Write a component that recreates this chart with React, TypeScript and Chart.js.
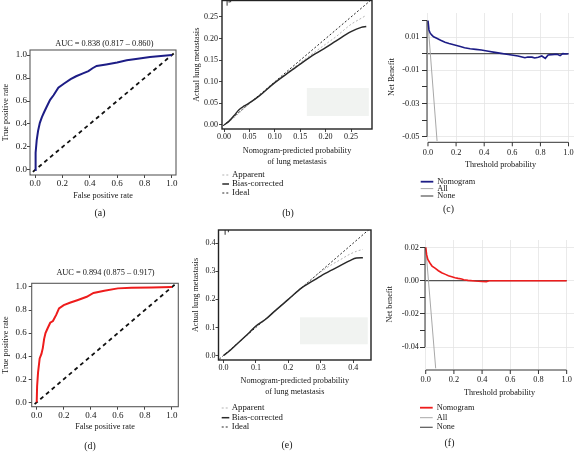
import React, { useEffect, useRef } from "react";
import { Chart, registerables } from "chart.js";

Chart.register(...registerables);

const SERIF = "'Liberation Serif', 'DejaVu Serif', 'Times New Roman', serif";

// ---------- (a) ROC, training ----------
const rocAFpr = [0, 0.004, 0.012, 0.022, 0.035, 0.05, 0.065, 0.085, 0.11, 0.135, 0.17, 0.21, 0.26, 0.3, 0.35, 0.39, 0.42, 0.45, 0.52, 0.6, 0.67, 0.75, 0.84, 0.92, 1.0];
const rocATpr = [0, 0.15, 0.26, 0.34, 0.41, 0.46, 0.5, 0.55, 0.61, 0.65, 0.715, 0.75, 0.79, 0.815, 0.84, 0.86, 0.885, 0.905, 0.918, 0.935, 0.955, 0.968, 0.982, 0.992, 1.0];
const aucA = "AUC = 0.838 (0.817 – 0.860)";

// ---------- (d) ROC, validation ----------
const rocDFpr = [0, 0.003, 0.01, 0.022, 0.035, 0.045, 0.055, 0.065, 0.08, 0.1, 0.12, 0.145, 0.165, 0.2, 0.25, 0.3, 0.37, 0.42, 0.5, 0.6, 0.7, 0.85, 1.0];
const rocDTpr = [0, 0.14, 0.26, 0.38, 0.42, 0.47, 0.55, 0.6, 0.64, 0.69, 0.705, 0.76, 0.815, 0.843, 0.865, 0.885, 0.915, 0.948, 0.968, 0.988, 0.993, 0.996, 1.0];
const aucD = "AUC = 0.894 (0.875 – 0.917)";

const diagX = [-0.1, 1.1];
const rocTicks = [0, 0.2, 0.4, 0.6, 0.8, 1.0];
const rocTickLabels = ["0.0", "0.2", "0.4", "0.6", "0.8", "1.0"];

// ---------- (b) calibration, training ----------
const calBX = [0, 0.01, 0.02, 0.03, 0.04, 0.05, 0.07, 0.1, 0.13, 0.15, 0.18, 0.2, 0.22, 0.25, 0.27, 0.28];
const calBApparent = [0, 0.008, 0.017, 0.028, 0.039, 0.049, 0.068, 0.098, 0.126, 0.144, 0.17, 0.187, 0.204, 0.233, 0.247, 0.254];
const calBBias = [0, 0.009, 0.022, 0.036, 0.044, 0.051, 0.068, 0.098, 0.124, 0.141, 0.165, 0.179, 0.194, 0.216, 0.226, 0.228];
const calBTicks = [0, 0.05, 0.1, 0.15, 0.2, 0.25];
const calBTickLabels = ["0.00", "0.05", "0.10", "0.15", "0.20", "0.25"];
const rugBX = [0.006, 0.01, 0.013];
const rugBLen = [0.012, 0.005, 0.004];

// ---------- (e) calibration, validation ----------
const calEX = [0, 0.02, 0.05, 0.08, 0.1, 0.13, 0.16, 0.2, 0.24, 0.27, 0.3, 0.33, 0.36, 0.39, 0.41, 0.43];
const calEApparent = [0, 0.018, 0.05, 0.082, 0.105, 0.129, 0.16, 0.2, 0.242, 0.27, 0.298, 0.321, 0.341, 0.361, 0.371, 0.378];
const calEBias = [0, 0.018, 0.05, 0.082, 0.105, 0.129, 0.16, 0.2, 0.24, 0.262, 0.283, 0.302, 0.32, 0.338, 0.347, 0.348];
const calETicks = [0, 0.1, 0.2, 0.3, 0.4];
const calETickLabels = ["0.0", "0.1", "0.2", "0.3", "0.4"];
const rugEX = [0.005, 0.015];
const rugELen = [0.017, 0.008];

const idealX = [-0.05, 0.6];
const calLegendLabels = ["Apparent", "Bias-corrected", "Ideal"];
const calXTitle = ["Nomogram-predicted probability", "of lung metastasis"];

// ---------- (c) DCA, training ----------
const dcaCThr = [0, 0.007, 0.015, 0.026, 0.04, 0.062, 0.09, 0.121, 0.15, 0.19, 0.23, 0.26, 0.3, 0.34, 0.38, 0.43, 0.476, 0.52, 0.56, 0.595, 0.64, 0.69, 0.71, 0.74, 0.76, 0.785, 0.81, 0.835, 0.855, 0.88, 0.9, 0.92, 0.94, 0.96, 0.985, 1.0];
const dcaCNet = [0.0199, 0.0143, 0.0125, 0.0113, 0.0102, 0.0093, 0.0081, 0.0069, 0.0061, 0.0052, 0.0043, 0.0036, 0.003, 0.0026, 0.0022, 0.0015, 0.0008, 0.0002, -0.0003, -0.0008, -0.0014, -0.0024, -0.002, -0.0021, -0.0026, -0.0022, -0.0014, -0.0028, -0.0008, -0.0006, -0.0004, -0.0004, -0.0012, 0.0, -0.0002, 0.0];
const dcaCAllThr = [0, 0.065];
const dcaCAll = [0.0185, -0.053];
const dcaCYTicks = [-0.05, -0.04, -0.03, -0.02, -0.01, 0, 0.01, 0.02];
const dcaCYLabels = ["-0.05", "", "-0.03", "", "-0.01", "", "0.01", ""];

// ---------- (f) DCA, validation ----------
const dcaFThr = [0, 0.007, 0.015, 0.031, 0.045, 0.066, 0.09, 0.113, 0.14, 0.161, 0.185, 0.208, 0.23, 0.255, 0.27, 0.3, 0.35, 0.4, 0.43, 0.44, 0.45, 1.0];
const dcaFNet = [0.0201, 0.0155, 0.0128, 0.0105, 0.0088, 0.0075, 0.006, 0.0048, 0.0038, 0.003, 0.0024, 0.0018, 0.0014, 0.001, 0.0006, 0.0002, -0.0002, -0.0005, -0.0006, -0.0004, 0, 0];
const dcaFAllThr = [0, 0.071];
const dcaFAll = [0.0201, -0.053];
const dcaFYTicks = [-0.04, -0.03, -0.02, -0.01, 0, 0.01, 0.02];
const dcaFYLabels = ["-0.04", "", "-0.02", "", "0.00", "", "0.02"];

const dcaNoneThr = [0, 1];
const dcaNone = [0, 0];
const dcaXTicks = [0, 0.2, 0.4, 0.6, 0.8, 1.0];
const dcaXLabels = ["0.0", "0.2", "0.4", "0.6", "0.8", "1.0"];
const dcaLegendLabels = ["Nomogram", "All", "None"];

// ---------- styles ----------
const NAVY = "#1d1d86";
const RED = "#ee1c1c";
const TEXT = "#151515";
const GRID = "#e4e4e4";
const styApparent = { color: "#b4b4b4", width: 1, dash: [2, 2] };
const styBias = { color: "#2a2a2a", width: 1.5, dash: [] as number[] };
const styIdeal = { color: "#2a2a2a", width: 1, dash: [2, 2] };
const styAll = { color: "#a8a8a8", width: 1, dash: [] as number[] };
const styNone = { color: "#555", width: 1.2, dash: [] as number[] };

type Txt = { text: string; x: number; y: number; size: number };
type LegItem = { label: string; color: string; width: number; dash: number[] };
type Decor = {
  box?: { color: string; width: number };
  spines?: { yFrom: number; yTo: number; xFrom: number; xTo: number; xTicks: number[]; offset: number; tick: number; color: string };
  rects?: { x0: number; x1: number; y0: number; y1: number; color: string }[];
  rug?: { xs: number[]; lens: number[]; color: string };
  texts?: Txt[];
  legend?: { items: LegItem[]; ys: number[]; x0: number; x1: number; tx: number; size: number };
};

function makeDecor(d: Decor) {
  return {
    id: "decor",
    beforeDatasetsDraw(chart: any) {
      const { ctx } = chart;
      const xs = chart.scales.x;
      const ys = chart.scales.y;
      (d.rects || []).forEach((r) => {
        const x1 = xs.getPixelForValue(r.x0);
        const x2 = xs.getPixelForValue(r.x1);
        const y1 = ys.getPixelForValue(r.y1);
        const y2 = ys.getPixelForValue(r.y0);
        ctx.save();
        ctx.fillStyle = r.color;
        ctx.fillRect(x1, y1, x2 - x1, y2 - y1);
        ctx.restore();
      });
    },
    afterDraw(chart: any) {
      const { ctx, chartArea: ca } = chart;
      const xs = chart.scales.x;
      const ys = chart.scales.y;
      ctx.save();
      if (d.rug) {
        ctx.strokeStyle = d.rug.color;
        ctx.lineWidth = 1;
        d.rug.xs.forEach((xv, i) => {
          const px = xs.getPixelForValue(xv);
          const y2 = ys.getPixelForValue(ys.max - d.rug!.lens[i]);
          ctx.beginPath();
          ctx.moveTo(px, ca.top);
          ctx.lineTo(px, y2);
          ctx.stroke();
        });
      }
      if (d.box) {
        ctx.strokeStyle = d.box.color;
        ctx.lineWidth = d.box.width;
        ctx.strokeRect(ca.left, ca.top, ca.right - ca.left, ca.bottom - ca.top);
      }
      if (d.spines) {
        const s = d.spines;
        ctx.strokeStyle = s.color;
        ctx.lineWidth = 1;
        ctx.beginPath();
        ctx.moveTo(ca.left, ys.getPixelForValue(s.yFrom));
        ctx.lineTo(ca.left, ys.getPixelForValue(s.yTo));
        const yb = ca.bottom + s.offset;
        ctx.moveTo(xs.getPixelForValue(s.xFrom), yb);
        ctx.lineTo(xs.getPixelForValue(s.xTo), yb);
        s.xTicks.forEach((t) => {
          const px = xs.getPixelForValue(t);
          ctx.moveTo(px, yb);
          ctx.lineTo(px, yb + s.tick);
        });
        ctx.stroke();
      }
      ctx.fillStyle = TEXT;
      ctx.textBaseline = "middle";
      (d.texts || []).forEach((t) => {
        ctx.font = `${t.size}px ${SERIF}`;
        ctx.textAlign = "center";
        ctx.fillText(t.text, t.x, t.y);
      });
      if (d.legend) {
        const L = d.legend;
        L.items.forEach((it, i) => {
          const y = L.ys[i];
          ctx.strokeStyle = it.color;
          ctx.lineWidth = it.width;
          ctx.setLineDash(it.dash);
          ctx.beginPath();
          ctx.moveTo(L.x0, y);
          ctx.lineTo(L.x1, y);
          ctx.stroke();
          ctx.setLineDash([]);
          ctx.font = `${L.size}px ${SERIF}`;
          ctx.textAlign = "left";
          ctx.fillStyle = TEXT;
          ctx.fillText(it.label, L.tx, y);
        });
      }
      ctx.restore();
    },
  };
}

function series(xs: number[], ys: number[], color: string, width: number, dash: number[] = [], extra: any = {}) {
  return {
    data: xs.map((x, i) => ({ x, y: ys[i] })),
    borderColor: color,
    borderWidth: width,
    borderDash: dash,
    pointRadius: 0,
    fill: false,
    tension: 0,
    ...extra,
  };
}

type Spec = {
  w: number; h: number; L: number; T: number; R: number; B: number;
  xMin: number; xMax: number; yMin: number; yMax: number;
  xTicks: number[]; xLabels: string[]; yTicks: number[]; yLabels: string[];
  tickSize: number; xLabelPad: number; yLabelPad: number;
  rStyle: boolean;
  xTitle: string | string[]; xTitlePad: number; yTitle: string; yTitlePad: number;
  datasets: any[];
  decor: Decor;
};

function buildConfig(p: Spec): any {
  const tickFont = { family: SERIF, size: p.tickSize };
  const titleFont = { family: SERIF, size: 8.2, lineHeight: 1.37 };
  return {
    type: "line",
    data: { datasets: p.datasets },
    options: {
      animation: false,
      responsive: false,
      maintainAspectRatio: false,
      devicePixelRatio: 1,
      events: [],
      layout: { padding: { left: 0, top: p.T, right: p.w - p.R, bottom: 0 } },
      plugins: { legend: { display: false }, tooltip: { enabled: false }, title: { display: false } },
      scales: {
        x: {
          type: "linear",
          min: p.xMin,
          max: p.xMax,
          afterBuildTicks: (s: any) => {
            s.ticks = p.xTicks.map((v) => ({ value: v }));
          },
          afterFit: (s: any) => {
            s.height = p.h - p.B;
            s.paddingLeft = 0; s.paddingRight = 0; s.paddingTop = 0; s.paddingBottom = 0;
          },
          ticks: {
            autoSkip: false, maxRotation: 0, minRotation: 0, color: TEXT, font: tickFont, padding: p.xLabelPad,
            callback: (_v: any, i: number) => p.xLabels[i],
          },
          grid: p.rStyle
            ? { display: true, drawOnChartArea: true, drawTicks: false, color: GRID, lineWidth: 0.8 }
            : { display: true, drawOnChartArea: false, drawTicks: true, tickLength: 3, tickColor: "#444", tickWidth: 1 },
          border: { display: false },
          title: { display: true, text: p.xTitle, color: TEXT, font: titleFont, padding: { top: 0, bottom: p.xTitlePad } },
        },
        y: {
          type: "linear",
          min: p.yMin,
          max: p.yMax,
          afterBuildTicks: (s: any) => {
            s.ticks = p.yTicks.map((v) => ({ value: v }));
          },
          afterFit: (s: any) => {
            s.width = p.L;
            s.paddingLeft = 0; s.paddingRight = 0; s.paddingTop = 0; s.paddingBottom = 0;
          },
          ticks: {
            autoSkip: false, color: TEXT, font: tickFont, padding: p.yLabelPad,
            callback: (_v: any, i: number) => p.yLabels[i],
          },
          grid: p.rStyle
            ? {
                display: true, drawOnChartArea: true, drawTicks: true, tickLength: 5, tickColor: "#333", tickWidth: 1,
                color: (c: any) => (p.yLabels[c.index] ? GRID : "rgba(0,0,0,0)"), lineWidth: 0.8,
              }
            : { display: true, drawOnChartArea: false, drawTicks: true, tickLength: 3, tickColor: "#444", tickWidth: 1 },
          border: { display: false },
          title: { display: true, text: p.yTitle, color: TEXT, font: titleFont, padding: { top: p.yTitlePad, bottom: 0 } },
        },
      },
    },
    plugins: [makeDecor(p.decor)],
  };
}

function rocSpec(fpr: number[], tpr: number[], color: string, auc: string, lay: any): Spec {
  return {
    w: 190, h: lay.h, L: lay.L, T: lay.T, R: lay.R, B: lay.B,
    xMin: lay.xMin, xMax: lay.xMax, yMin: lay.yMin, yMax: lay.yMax,
    xTicks: rocTicks, xLabels: rocTickLabels, yTicks: rocTicks, yLabels: rocTickLabels,
    tickSize: 9, xLabelPad: lay.xLabelPad, yLabelPad: lay.yLabelPad, rStyle: false,
    xTitle: "False positive rate", xTitlePad: lay.xTitlePad, yTitle: "True positive rate", yTitlePad: 0,
    datasets: [
      series(fpr, tpr, color, 2),
      series(diagX, diagX, "#111", 1.8, [4, 3.5]),
    ],
    decor: {
      box: { color: "#5a5a5a", width: 1.1 },
      texts: [
        { text: auc, x: lay.titleX, y: lay.titleY, size: 8.3 },
        { text: lay.tag, x: lay.tagX, y: lay.tagY, size: 9.8 },
      ],
    },
  };
}

function calSpec(xv: number[], app: number[], bias: number[], lay: any): Spec {
  return {
    w: 190, h: lay.h, L: lay.L, T: lay.T, R: lay.R, B: lay.B,
    xMin: lay.xMin, xMax: lay.xMax, yMin: lay.yMin, yMax: lay.yMax,
    xTicks: lay.ticks, xLabels: lay.labels, yTicks: lay.ticks, yLabels: lay.labels,
    tickSize: 8, xLabelPad: 0, yLabelPad: lay.yLabelPad, rStyle: false,
    xTitle: calXTitle, xTitlePad: lay.xTitlePad, yTitle: "Actual lung metastasis", yTitlePad: lay.yTitlePad,
    datasets: [
      series(xv, bias, styBias.color, styBias.width, styBias.dash, { cubicInterpolationMode: "monotone" }),
      series(xv, app, styApparent.color, styApparent.width, styApparent.dash, { cubicInterpolationMode: "monotone" }),
      series(idealX, idealX, styIdeal.color, styIdeal.width, styIdeal.dash),
    ],
    decor: {
      box: { color: "#222", width: 1.4 },
      rects: [{ ...lay.rect, color: "#f1f3f1" }],
      rug: { xs: lay.rugX, lens: lay.rugLen, color: "#333" },
      texts: [{ text: lay.tag, x: lay.tagX, y: lay.tagY, size: 9.8 }],
      legend: {
        items: [
          { label: calLegendLabels[0], ...styApparent },
          { label: calLegendLabels[1], ...styBias },
          { label: calLegendLabels[2], ...styIdeal },
        ],
        ys: lay.legYs, x0: lay.legX0, x1: lay.legX1, tx: lay.legTx, size: 8.8,
      },
    },
  };
}

function dcaSpec(thr: number[], net: number[], allThr: number[], all: number[], color: string, lay: any): Spec {
  return {
    w: 194, h: lay.h, L: lay.L, T: lay.T, R: 194, B: lay.B,
    xMin: lay.xMin, xMax: lay.xMax, yMin: lay.yMin, yMax: lay.yMax,
    xTicks: dcaXTicks, xLabels: dcaXLabels, yTicks: lay.yTicks, yLabels: lay.yLabels,
    tickSize: 8.3, xLabelPad: lay.xLabelPad, yLabelPad: lay.yLabelPad, rStyle: true,
    xTitle: "Threshold probability", xTitlePad: lay.xTitlePad, yTitle: lay.yTitle, yTitlePad: lay.yTitlePad,
    datasets: [
      series(thr, net, color, 1.6),
      series(allThr, all, styAll.color, styAll.width),
      series(dcaNoneThr, dcaNone, styNone.color, styNone.width),
    ],
    decor: {
      spines: { yFrom: lay.yFrom, yTo: lay.yTo, xFrom: 0, xTo: 1, xTicks: dcaXTicks, offset: lay.spineOffset, tick: 4, color: "#333" },
      texts: [{ text: lay.tag, x: lay.tagX, y: lay.tagY, size: 9.8 }],
      legend: {
        items: [
          { label: dcaLegendLabels[0], color, width: 1.8, dash: [] },
          { label: dcaLegendLabels[1], ...styAll },
          { label: dcaLegendLabels[2], ...styNone },
        ],
        ys: lay.legYs, x0: lay.legX0, x1: lay.legX1, tx: lay.legTx, size: 8.3,
      },
    },
  };
}

const specA = () =>
  buildConfig(
    rocSpec(rocAFpr, rocATpr, NAVY, aucA, {
      h: 225, L: 30, T: 50, R: 176, B: 175,
      xMin: -0.037, xMax: 1.03, yMin: -0.0435, yMax: 1.0435,
      xLabelPad: 0, yLabelPad: 0, xTitlePad: 23.4,
      titleX: 104.3, titleY: 44, tag: "(a)", tagX: 100, tagY: 213,
    })
  );

const specD = () =>
  buildConfig(
    rocSpec(rocDFpr, rocDTpr, RED, aucD, {
      h: 228, L: 31.7, T: 58.3, R: 178.3, B: 181.7,
      xMin: -0.037, xMax: 1.047, yMin: -0.038, yMax: 1.032,
      xLabelPad: 1, yLabelPad: 2, xTitlePad: 20.1,
      titleX: 105.5, titleY: 48.3, tag: "(d)", tagX: 90, tagY: 221.7,
    })
  );

const specB = () =>
  buildConfig(
    calSpec(calBX, calBApparent, calBBias, {
      h: 225, L: 32, T: 0.5, R: 182, B: 129,
      xMin: -0.004, xMax: 0.2913, yMin: -0.0093, yMax: 0.2882,
      ticks: calBTicks, labels: calBTickLabels, yLabelPad: 1, xTitlePad: 57.7, yTitlePad: 1.4,
      rect: { x0: 0.163, x1: 0.285, y0: 0.0208, y1: 0.0856 },
      rugX: rugBX, rugLen: rugBLen,
      tag: "(b)", tagX: 98, tagY: 213,
      legYs: [175, 184, 193], legX0: 32.3, legX1: 39, legTx: 42,
    })
  );

const specE = () =>
  buildConfig(
    calSpec(calEX, calEApparent, calEBias, {
      h: 228, L: 28.5, T: 5, R: 181, B: 135,
      xMin: -0.0154, xMax: 0.455, yMin: -0.016, yMax: 0.447,
      ticks: calETicks, labels: calETickLabels, yLabelPad: 0, xTitlePad: 55.7, yTitlePad: 0.4,
      rect: { x0: 0.236, x1: 0.445, y0: 0.04, y1: 0.136 },
      rugX: rugEX, rugLen: rugELen,
      tag: "(e)", tagX: 97, tagY: 220,
      legYs: [183, 192.7, 202], legX0: 31.7, legX1: 39.3, legTx: 41.7,
    })
  );

const specC = () =>
  buildConfig(
    dcaSpec(dcaCThr, dcaCNet, dcaCAllThr, dcaCAll, NAVY, {
      h: 225, L: 47, T: 13, B: 141,
      xMin: -0.007, xMax: 1.039, yMin: -0.0526, yMax: 0.0245,
      yTicks: dcaCYTicks, yLabels: dcaCYLabels, xLabelPad: 6.5, yLabelPad: 2.5,
      xTitlePad: 54.4, yTitle: "Net Benefit", yTitlePad: 6.1,
      yFrom: 0.02, yTo: -0.05, spineOffset: 1.3,
      tag: "(c)", tagX: 68.5, tagY: 209.3,
      legYs: [181.7, 188.6, 196], legX0: 40.7, legX1: 53.3, legTx: 57.3,
    })
  );

const specF = () =>
  buildConfig(
    dcaSpec(dcaFThr, dcaFNet, dcaFAllThr, dcaFAll, RED, {
      h: 228, L: 45, T: 15, B: 143.5,
      xMin: -0.005, xMax: 1.052, yMin: -0.0529, yMax: 0.0245,
      yTicks: dcaFYTicks, yLabels: dcaFYLabels, xLabelPad: 6.7, yLabelPad: 1,
      xTitlePad: 54.7, yTitle: "Net benefit", yTitlePad: 4.4,
      yFrom: 0.02, yTo: -0.04, spineOffset: 1.5,
      tag: "(f)", tagX: 69.5, tagY: 218.3,
      legYs: [182.7, 192.7, 202.3], legX0: 40, legX1: 52.7, legTx: 56.7,
    })
  );

function Panel({ x, y, w, h, make }: { x: number; y: number; w: number; h: number; make: () => any }) {
  const ref = useRef<HTMLCanvasElement | null>(null);
  useEffect(() => {
    if (!ref.current) return;
    const chart = new Chart(ref.current, make());
    return () => chart.destroy();
  }, []);
  return (
    <canvas
      ref={ref}
      width={w}
      height={h}
      style={{ position: "absolute", left: x, top: y, width: w, height: h, display: "block" }}
    />
  );
}

export default function App() {
  return (
    <div style={{ position: "absolute", left: 0, top: 0, width: 574, height: 453, background: "#fff", overflow: "hidden" }}>
      <Panel x={0} y={0} w={190} h={225} make={specA} />
      <Panel x={190} y={0} w={190} h={225} make={specB} />
      <Panel x={380} y={0} w={194} h={225} make={specC} />
      <Panel x={0} y={225} w={190} h={228} make={specD} />
      <Panel x={190} y={225} w={190} h={228} make={specE} />
      <Panel x={380} y={225} w={194} h={228} make={specF} />
    </div>
  );
}
